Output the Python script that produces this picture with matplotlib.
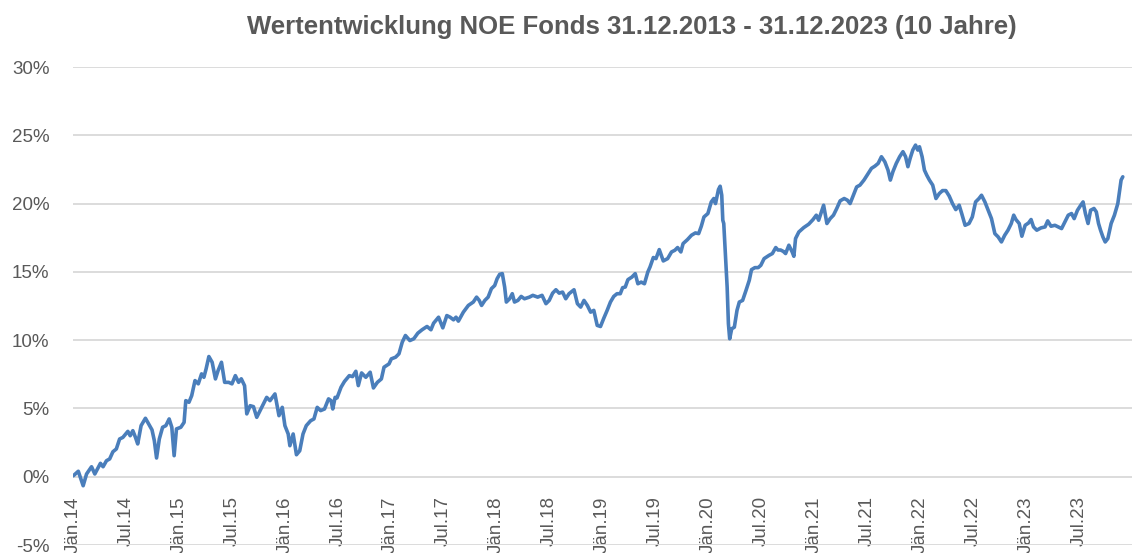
import matplotlib
matplotlib.use("Agg")
import matplotlib.pyplot as plt

# ---- data (time as decimal year, performance in %) ----
time_years = [
    2014.003, 2014.050, 2014.096, 2014.128, 2014.175, 2014.206, 2014.259, 2014.284, 2014.316, 2014.346,
    2014.377, 2014.409, 2014.440, 2014.471, 2014.518, 2014.540, 2014.565, 2014.590, 2014.611, 2014.643,
    2014.684, 2014.714, 2014.746, 2014.768, 2014.789, 2014.815, 2014.846, 2014.877, 2014.908, 2014.933,
    2014.955, 2014.977, 2015.018, 2015.049, 2015.065, 2015.095, 2015.121, 2015.152, 2015.183, 2015.214,
    2015.236, 2015.257, 2015.283, 2015.314, 2015.345, 2015.370, 2015.402, 2015.432, 2015.470, 2015.501,
    2015.533, 2015.564, 2015.589, 2015.620, 2015.641, 2015.673, 2015.704, 2015.735, 2015.782, 2015.829,
    2015.860, 2015.907, 2015.945, 2015.976, 2016.001, 2016.032, 2016.048, 2016.079, 2016.110, 2016.141,
    2016.172, 2016.203, 2016.244, 2016.275, 2016.306, 2016.338, 2016.375, 2016.413, 2016.437, 2016.453,
    2016.475, 2016.493, 2016.531, 2016.563, 2016.609, 2016.640, 2016.671, 2016.694, 2016.725, 2016.765,
    2016.806, 2016.837, 2016.874, 2016.912, 2016.937, 2016.984, 2017.006, 2017.046, 2017.078, 2017.109,
    2017.139, 2017.181, 2017.218, 2017.256, 2017.296, 2017.343, 2017.380, 2017.405, 2017.452, 2017.492,
    2017.530, 2017.561, 2017.593, 2017.617, 2017.639, 2017.686, 2017.733, 2017.780, 2017.811, 2017.836,
    2017.858, 2017.889, 2017.920, 2017.951, 2017.982, 2018.005, 2018.029, 2018.054, 2018.076, 2018.092,
    2018.123, 2018.148, 2018.169, 2018.201, 2018.232, 2018.263, 2018.310, 2018.342, 2018.388, 2018.429,
    2018.466, 2018.497, 2018.529, 2018.560, 2018.591, 2018.623, 2018.653, 2018.684, 2018.731, 2018.763,
    2018.794, 2018.825, 2018.857, 2018.888, 2018.918, 2018.950, 2018.981, 2019.012, 2019.044, 2019.075,
    2019.106, 2019.137, 2019.168, 2019.190, 2019.215, 2019.240, 2019.278, 2019.309, 2019.334, 2019.365,
    2019.396, 2019.428, 2019.449, 2019.480, 2019.505, 2019.536, 2019.574, 2019.615, 2019.652, 2019.683,
    2019.709, 2019.740, 2019.761, 2019.802, 2019.840, 2019.877, 2019.908, 2019.933, 2019.958, 2019.995,
    2020.027, 2020.051, 2020.067, 2020.095, 2020.111, 2020.126, 2020.136, 2020.145, 2020.158, 2020.177,
    2020.189, 2020.201, 2020.220, 2020.245, 2020.270, 2020.292, 2020.323, 2020.355, 2020.386, 2020.407,
    2020.439, 2020.470, 2020.495, 2020.526, 2020.573, 2020.604, 2020.636, 2020.657, 2020.682, 2020.707,
    2020.729, 2020.760, 2020.791, 2020.807, 2020.823, 2020.854, 2020.900, 2020.947, 2020.988, 2021.019,
    2021.041, 2021.088, 2021.119, 2021.150, 2021.181, 2021.212, 2021.244, 2021.282, 2021.312, 2021.338,
    2021.369, 2021.400, 2021.431, 2021.469, 2021.509, 2021.540, 2021.572, 2021.603, 2021.634, 2021.666,
    2021.696, 2021.718, 2021.743, 2021.774, 2021.806, 2021.837, 2021.862, 2021.884, 2021.905, 2021.930,
    2021.956, 2021.977, 2021.993, 2022.018, 2022.040, 2022.062, 2022.087, 2022.118, 2022.149, 2022.181,
    2022.211, 2022.242, 2022.274, 2022.305, 2022.336, 2022.368, 2022.392, 2022.424, 2022.461, 2022.492,
    2022.523, 2022.555, 2022.579, 2022.611, 2022.642, 2022.673, 2022.705, 2022.736, 2022.767, 2022.798,
    2022.829, 2022.860, 2022.883, 2022.904, 2022.935, 2022.960, 2022.991, 2023.023, 2023.047, 2023.070,
    2023.101, 2023.141, 2023.179, 2023.204, 2023.235, 2023.272, 2023.304, 2023.335, 2023.366, 2023.398,
    2023.429, 2023.454, 2023.485, 2023.516, 2023.538, 2023.560, 2023.585, 2023.609, 2023.641, 2023.663,
    2023.684, 2023.703, 2023.725, 2023.747, 2023.772, 2023.803, 2023.834, 2023.866, 2023.897, 2023.913,
]

perf_pct = [
    0.07, 0.40, -0.66, 0.20, 0.73, 0.20, 0.98, 0.73, 1.17, 1.30,
    1.83, 2.03, 2.76, 2.88, 3.32, 3.00, 3.37, 2.88, 2.40, 3.74,
    4.28, 3.87, 3.43, 2.64, 1.37, 2.76, 3.62, 3.74, 4.23, 3.62,
    1.54, 3.50, 3.62, 3.98, 5.57, 5.45, 5.94, 7.04, 6.80, 7.53,
    7.28, 7.90, 8.80, 8.38, 7.16, 7.77, 8.38, 6.91, 6.91, 6.80,
    7.40, 6.91, 7.17, 6.67, 4.60, 5.20, 5.13, 4.35, 5.08, 5.81,
    5.57, 6.06, 4.47, 5.08, 3.74, 3.13, 2.27, 3.13, 1.61, 1.90,
    3.13, 3.74, 4.10, 4.23, 5.08, 4.84, 4.96, 5.70, 5.57, 4.96,
    5.81, 5.77, 6.55, 6.97, 7.40, 7.33, 7.72, 6.67, 7.60, 7.28,
    7.65, 6.50, 6.91, 7.16, 8.02, 8.26, 8.63, 8.75, 9.00, 9.85,
    10.34, 9.97, 10.10, 10.51, 10.76, 11.00, 10.76, 11.24, 11.68, 10.90,
    11.80, 11.68, 11.49, 11.68, 11.39, 12.05, 12.54, 12.79, 13.15, 12.91,
    12.54, 12.91, 13.15, 13.77, 14.00, 14.50, 14.82, 14.87, 13.89, 12.79,
    13.03, 13.40, 12.79, 12.91, 13.20, 13.03, 13.15, 13.28, 13.15, 13.28,
    12.67, 12.91, 13.44, 13.69, 13.44, 13.52, 13.03, 13.40, 13.69, 12.67,
    12.42, 12.91, 12.54, 12.05, 12.18, 11.08, 11.00, 11.60, 12.18, 12.79,
    13.20, 13.40, 13.40, 13.84, 13.89, 14.43, 14.62, 14.87, 14.13, 14.25,
    14.13, 14.99, 15.36, 16.05, 15.97, 16.63, 15.80, 15.97, 16.46, 16.58,
    16.78, 16.46, 17.07, 17.36, 17.68, 17.85, 17.80, 18.34, 19.02, 19.27,
    20.12, 20.37, 20.00, 21.03, 21.27, 20.61, 18.78, 18.54, 16.70, 13.89,
    11.20, 10.10, 10.83, 10.95, 12.18, 12.79, 12.91, 13.64, 14.38, 15.16,
    15.31, 15.31, 15.48, 15.97, 16.21, 16.34, 16.78, 16.60, 16.60, 16.50,
    16.34, 16.95, 16.46, 16.14, 17.44, 17.92, 18.24, 18.49, 18.83, 19.15,
    18.78, 19.88, 18.54, 18.90, 19.15, 19.64, 20.20, 20.37, 20.25, 20.00,
    20.61, 21.22, 21.35, 21.72, 22.21, 22.58, 22.74, 22.94, 23.43, 23.06,
    22.45, 21.72, 22.35, 22.94, 23.43, 23.80, 23.43, 22.70, 23.31, 23.92,
    24.28, 23.92, 24.16, 23.43, 22.45, 22.08, 21.72, 21.35, 20.37, 20.74,
    20.95, 20.95, 20.55, 20.00, 19.56, 19.88, 19.27, 18.41, 18.54, 19.02,
    20.12, 20.37, 20.61, 20.12, 19.51, 18.90, 17.80, 17.56, 17.19, 17.68,
    18.05, 18.54, 19.15, 18.83, 18.54, 17.61, 18.41, 18.58, 18.83, 18.29,
    18.05, 18.22, 18.29, 18.73, 18.34, 18.41, 18.29, 18.17, 18.66, 19.15,
    19.27, 18.90, 19.51, 19.88, 20.12, 19.27, 18.54, 19.51, 19.64, 19.39,
    18.54, 18.05, 17.56, 17.19, 17.44, 18.54, 19.15, 20.00, 21.72, 21.96,
]

tick_positions = [2014.0, 2014.5, 2015.0, 2015.5, 2016.0, 2016.5, 2017.0, 2017.5, 2018.0, 2018.5,
                  2019.0, 2019.5, 2020.0, 2020.5, 2021.0, 2021.5, 2022.0, 2022.5, 2023.0, 2023.5]
tick_labels = ["Jän.14", "Jul.14", "Jän.15", "Jul.15", "Jän.16", "Jul.16", "Jän.17", "Jul.17",
               "Jän.18", "Jul.18", "Jän.19", "Jul.19", "Jän.20", "Jul.20", "Jän.21", "Jul.21",
               "Jän.22", "Jul.22", "Jän.23", "Jul.23"]
y_ticks = [-5, 0, 5, 10, 15, 20, 25, 30]
title_text = "Wertentwicklung NOE Fonds 31.12.2013 - 31.12.2023 (10 Jahre)"

# ---- style ----
body_family = ["Liberation Sans", "DejaVu Sans"]
text_color = "#595959"
line_color = "#4a7ebb"
grid_color = "#d9d9d9"

W, H = 1132, 553
fig = plt.figure(figsize=(W / 100, H / 100), dpi=100)
ax = fig.add_axes([73 / W, 8 / H, (W - 73) / W, (545 - 67) / H])

ax.plot(time_years, perf_pct, color=line_color, lw=2.6, solid_joinstyle="round",
        solid_capstyle="round", zorder=3)

ax.set_xlim(2014.0, 2024.0)
ax.set_ylim(-5, 30)
ax.set_yticks(y_ticks)
ax.set_yticklabels([f"{v}%" for v in y_ticks])
ax.set_xticks(tick_positions)
ax.set_xticklabels(tick_labels)

ax.grid(axis="y", color=grid_color, lw=1.3, zorder=0)
ax.grid(axis="x", visible=False)
for s in ["top", "right", "left"]:
    ax.spines[s].set_visible(False)
ax.spines["bottom"].set_position(("data", 0))
ax.spines["bottom"].set_visible(False)

ax.tick_params(axis="y", length=0, pad=17, labelsize=13.5, labelcolor=text_color)
ax.tick_params(axis="x", length=0, pad=14, labelsize=13.5, labelcolor=text_color,
               labelrotation=90)
for lab in ax.get_xticklabels():
    lab.set_family(body_family)
    lab.set_va("top")
    lab.set_ha("center")
for lab in ax.get_yticklabels():
    lab.set_family(body_family)

fig.text(632 / W, 1 - 27 / H, title_text, ha="center", va="center", fontsize=18.5,
         fontweight="bold", color=text_color, family=body_family)

fig.savefig("out.png", dpi=100)
